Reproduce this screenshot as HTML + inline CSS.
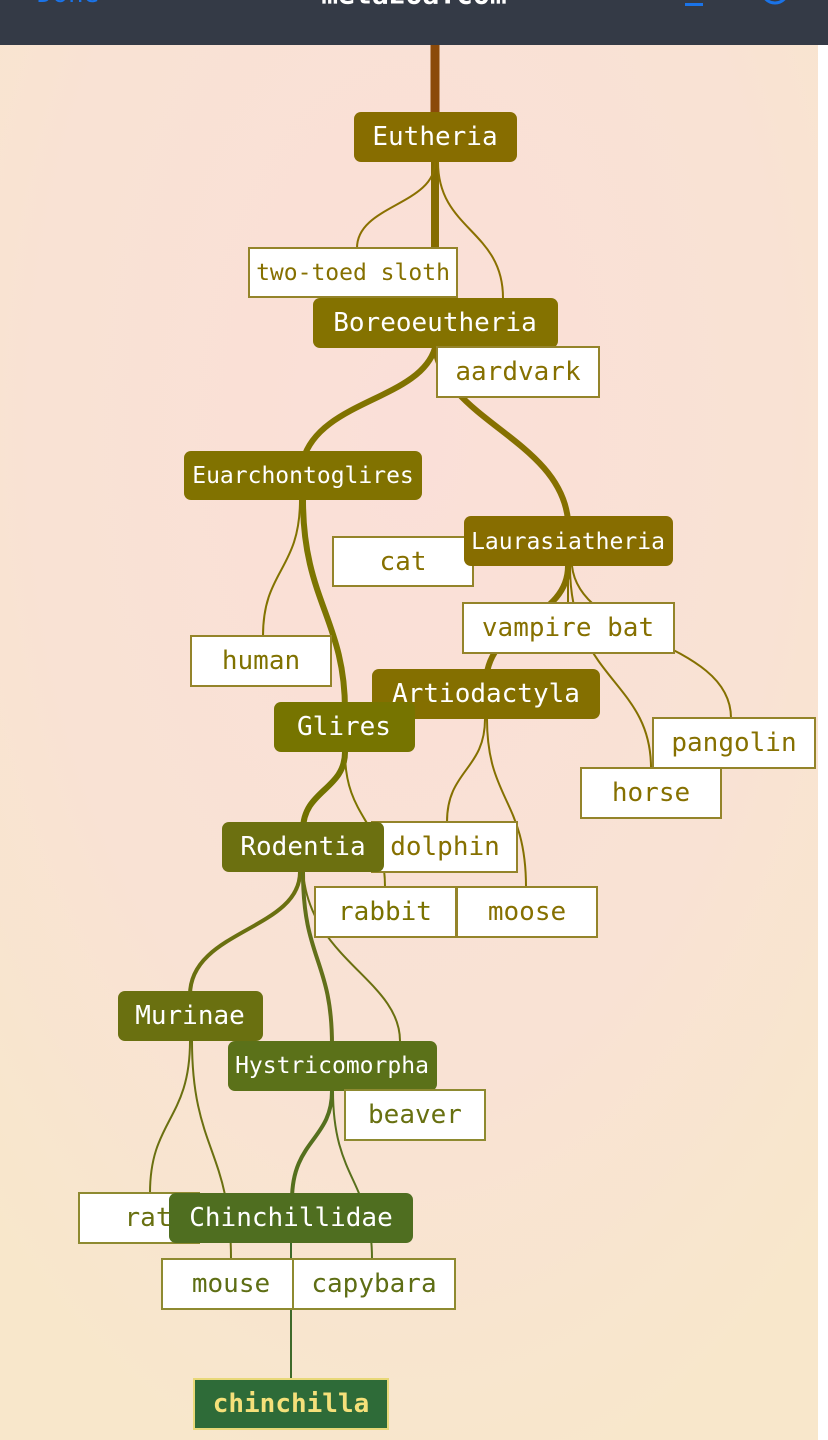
<!DOCTYPE html>
<html><head><meta charset="utf-8"><style>
html,body{margin:0;padding:0;width:828px;height:1440px;overflow:hidden;background:#fff}
svg{display:block}
text{font-family:"DejaVu Sans Mono","Liberation Mono",monospace;text-anchor:middle;dominant-baseline:central}
</style></head><body>
<svg width="828" height="1440" viewBox="0 0 828 1440" xmlns="http://www.w3.org/2000/svg">
<defs>
<radialGradient id="bg" cx="0.5" cy="0.3" r="0.75">
<stop offset="0" stop-color="#fadfd8"/><stop offset="0.6" stop-color="#f9e2d4"/><stop offset="1" stop-color="#f8e7cb"/>
</radialGradient>
</defs>
<rect x="0" y="0" width="818" height="1440" fill="url(#bg)"/>
<g fill="none" stroke-linecap="round">
<path d="M435 45 L435 137" stroke="#8b4a0a" stroke-width="9" stroke-linecap="butt"/>
<path d="M435 160 L435 323" stroke="#846c00" stroke-width="8"/>
<path d="M435 162 C435 205 357 205 357 248" stroke="#8a7000" stroke-width="2"/>
<path d="M438 162 C438 230 503 230 503 298" stroke="#8a7000" stroke-width="2"/>
<path d="M435 348 C420 400 320 400 303 460" stroke="#807300" stroke-width="6"/>
<path d="M435 348 C445 420 560 440 568 520" stroke="#857000" stroke-width="6"/>
<path d="M300 500 C300 570 263 570 263 636" stroke="#827300" stroke-width="2"/>
<path d="M303 500 C303 600 345 620 345 710" stroke="#7c7500" stroke-width="6"/>
<path d="M568 566 C568 620 490 620 486 680" stroke="#847000" stroke-width="6"/>
<path d="M568 566 L568 603" stroke="#847000" stroke-width="2"/>
<path d="M570 566 C570 680 651 680 651 768" stroke="#847000" stroke-width="2"/>
<path d="M572 566 C580 640 731 640 731 718" stroke="#847000" stroke-width="2"/>
<path d="M485 719 C485 770 447 770 447 822" stroke="#847000" stroke-width="2"/>
<path d="M487 719 C487 800 526 800 526 887" stroke="#847000" stroke-width="2"/>
<path d="M345 752 C345 790 303 790 303 830" stroke="#727200" stroke-width="6"/>
<path d="M345 752 C345 820 385 820 385 887" stroke="#7c7500" stroke-width="2"/>
<path d="M300 872 C300 930 190 930 190 995" stroke="#6a7010" stroke-width="4"/>
<path d="M303 872 C303 960 332 960 332 1045" stroke="#62701a" stroke-width="4"/>
<path d="M303 872 C310 960 400 980 400 1041" stroke="#6a7010" stroke-width="2"/>
<path d="M190 1041 C190 1120 150 1120 150 1193" stroke="#6a7010" stroke-width="2"/>
<path d="M192 1041 C192 1150 231 1150 231 1259" stroke="#6a7010" stroke-width="2"/>
<path d="M332 1091 C332 1140 292 1140 292 1200" stroke="#55701e" stroke-width="4"/>
<path d="M333 1091 C333 1180 372 1180 372 1259" stroke="#58701c" stroke-width="2"/>
<path d="M291 1243 L291 1379" stroke="#3f6a2a" stroke-width="2"/>
</g>
<rect x="0" y="0" width="828" height="45" fill="#343a46"/>
<rect x="685" y="3" width="18" height="3" fill="#1a73e8"/>
<circle cx="775" cy="-10" r="13" fill="none" stroke="#1a73e8" stroke-width="3"/>
<text x="68" y="-6" font-size="26" fill="#1a73e8" font-family="Liberation Sans">Done</text>
<text x="414" y="-6" font-size="28" fill="#fff" font-weight="bold" font-family="Liberation Sans">metazoa.com</text>
<rect x="354" y="112" width="163" height="50" rx="7" fill="#876d00"/>
<text x="435" y="137" font-size="26" fill="#fff">Eutheria</text>
<rect x="249" y="248" width="208" height="49" fill="#fff" stroke="#94842a" stroke-width="2"/>
<text x="353" y="273" font-size="23" fill="#867000">two‑toed sloth</text>
<rect x="313" y="298" width="245" height="50" rx="7" fill="#847200"/>
<text x="435" y="323" font-size="26" fill="#fff">Boreoeutheria</text>
<rect x="437" y="347" width="162" height="50" fill="#fff" stroke="#94842a" stroke-width="2"/>
<text x="518" y="372" font-size="26" fill="#867000">aardvark</text>
<rect x="184" y="451" width="238" height="49" rx="7" fill="#817200"/>
<text x="303" y="476" font-size="23" fill="#fff">Euarchontoglires</text>
<rect x="333" y="537" width="140" height="49" fill="#fff" stroke="#94842a" stroke-width="2"/>
<text x="403" y="562" font-size="26" fill="#867000">cat</text>
<rect x="464" y="516" width="209" height="50" rx="7" fill="#876d00"/>
<text x="568" y="542" font-size="23" fill="#fff">Laurasiatheria</text>
<rect x="463" y="603" width="211" height="50" fill="#fff" stroke="#94842a" stroke-width="2"/>
<text x="568" y="628" font-size="26" fill="#867000">vampire bat</text>
<rect x="191" y="636" width="140" height="50" fill="#fff" stroke="#94842a" stroke-width="2"/>
<text x="261" y="661" font-size="26" fill="#807200">human</text>
<rect x="372" y="669" width="228" height="50" rx="7" fill="#846f00"/>
<text x="486" y="694" font-size="26" fill="#fff">Artiodactyla</text>
<rect x="274" y="702" width="141" height="50" rx="7" fill="#767400"/>
<text x="344" y="727" font-size="26" fill="#fff">Glires</text>
<rect x="653" y="718" width="162" height="50" fill="#fff" stroke="#94842a" stroke-width="2"/>
<text x="734" y="743" font-size="26" fill="#867000">pangolin</text>
<rect x="581" y="768" width="140" height="50" fill="#fff" stroke="#94842a" stroke-width="2"/>
<text x="651" y="793" font-size="26" fill="#867000">horse</text>
<rect x="372" y="822" width="145" height="50" fill="#fff" stroke="#94842a" stroke-width="2"/>
<text x="445" y="847" font-size="26" fill="#867000">dolphin</text>
<rect x="222" y="822" width="162" height="50" rx="7" fill="#6c7010"/>
<text x="303" y="847" font-size="26" fill="#fff">Rodentia</text>
<rect x="315" y="887" width="141" height="50" fill="#fff" stroke="#94842a" stroke-width="2"/>
<text x="385" y="912" font-size="26" fill="#7a7200">rabbit</text>
<rect x="457" y="887" width="140" height="50" fill="#fff" stroke="#94842a" stroke-width="2"/>
<text x="527" y="912" font-size="26" fill="#867000">moose</text>
<rect x="118" y="991" width="145" height="50" rx="7" fill="#6a7010"/>
<text x="190" y="1016" font-size="26" fill="#fff">Murinae</text>
<rect x="228" y="1041" width="209" height="50" rx="7" fill="#5b7119"/>
<text x="332" y="1066" font-size="23" fill="#fff">Hystricomorpha</text>
<rect x="345" y="1090" width="140" height="50" fill="#fff" stroke="#8e8a30" stroke-width="2"/>
<text x="415" y="1115" font-size="26" fill="#687010">beaver</text>
<rect x="79" y="1193" width="120" height="50" fill="#fff" stroke="#8e8a30" stroke-width="2"/>
<text x="148" y="1218" font-size="26" fill="#687010">rat</text>
<rect x="169" y="1193" width="244" height="50" rx="7" fill="#4f6e20"/>
<text x="291" y="1218" font-size="26" fill="#fff">Chinchillidae</text>
<rect x="162" y="1259" width="131" height="50" fill="#fff" stroke="#8e8a30" stroke-width="2"/>
<text x="231" y="1284" font-size="26" fill="#5e6e14">mouse</text>
<rect x="293" y="1259" width="162" height="50" fill="#fff" stroke="#8e8a30" stroke-width="2"/>
<text x="374" y="1284" font-size="26" fill="#5e6e14">capybara</text>
<rect x="194" y="1379" width="194" height="50" fill="#2e6b38" stroke="#e8d878" stroke-width="2"/>
<text x="291" y="1404" font-size="26" font-weight="bold" fill="#f5e07a">chinchilla</text>
</svg>
</body></html>
